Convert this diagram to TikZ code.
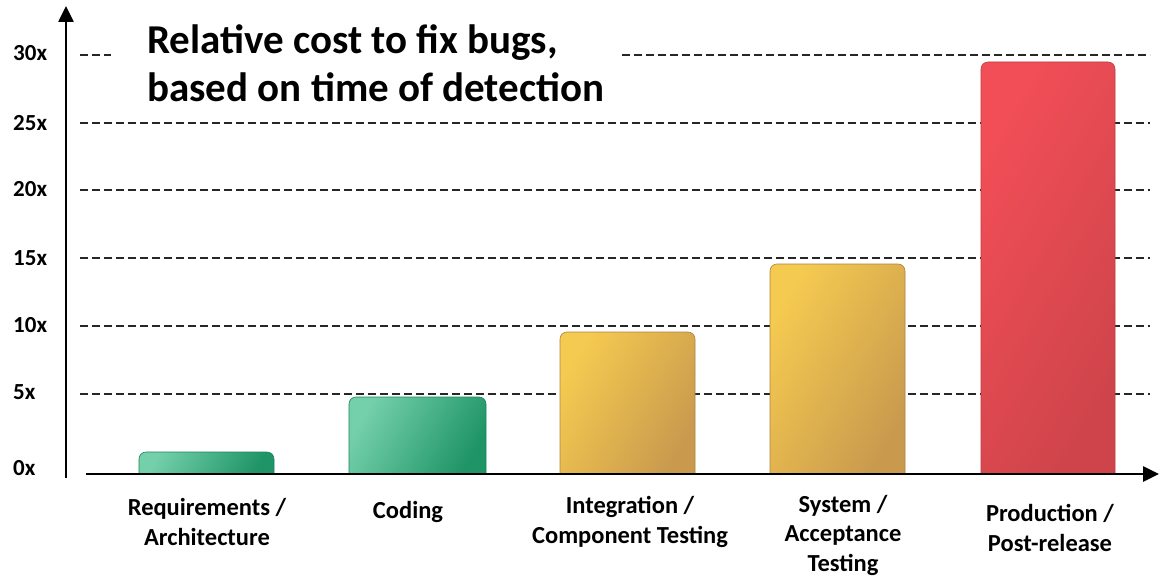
\documentclass[tikz,border=0pt]{standalone}
\usepackage{fontspec}
\setmainfont{Carlito}
\usetikzlibrary{arrows.meta}

\definecolor{greenA}{HTML}{74D0AA}
\definecolor{greenB}{HTML}{1F9467}
\definecolor{yellowA}{HTML}{F5CA50}
\definecolor{yellowB}{HTML}{C99A4E}
\definecolor{redA}{HTML}{F24E57}
\definecolor{redB}{HTML}{CE444A}

\tikzset{
  grid line/.style={black!85, line width=2pt, dash pattern=on 8pt off 4pt},
  axis line/.style={black, line width=2.6pt, -{Triangle[length=16pt,width=15pt]}},
  tick label/.style={font=\fontsize{23}{27}\selectfont\bfseries, anchor=west, inner sep=0pt},
  stage label/.style={font=\fontsize{24.5}{29.5}\selectfont\bfseries, align=center, inner sep=0pt},
  title label/.style={font=\fontsize{41}{48}\selectfont\bfseries, align=left, anchor=west, inner sep=0pt},
  bar green/.style={left color=greenA, right color=greenB, shading angle=60, draw=greenB!90!black, line width=0.6pt},
  bar yellow/.style={left color=yellowA, right color=yellowB, shading angle=60, draw=yellowB!85!black, line width=0.6pt},
  bar red/.style={left color=redA, right color=redB, shading angle=60, draw=redB!90!black, line width=0.6pt},
}

% a bar with rounded top corners and a square foot on the axis
\newcommand{\costbar}[4]{%
  \path[#1, rounded corners=7pt] (#2,474) -- (#2,#4) -- (#3,#4) -- (#3,474);
}

\begin{document}
\begin{tikzpicture}[x=1pt, y=-1pt]
  \useasboundingbox[fill=white] (0,0) rectangle (1160,578);

  % horizontal guide lines
  \draw[grid line] (80,55) -- (111,55);
  \draw[grid line] (622,55) -- (1150,55);
  \foreach \gy in {123,190,258,326,394}
    \draw[grid line] (80,\gy) -- (1150,\gy);

  % bars
  \costbar{bar green}{139}{274}{452}
  \costbar{bar green}{349}{486}{397}
  \costbar{bar yellow}{560}{695}{332}
  \costbar{bar yellow}{770}{905}{264}
  \costbar{bar red}{981}{1115}{62}

  % axes
  \coordinate (yfoot) at (66,478);
  \coordinate (ytip) at (66,6);
  \coordinate (xfoot) at (86,474);
  \coordinate (xtip) at (1159,474);
  \draw[axis line] (yfoot) -- (ytip);
  \draw[axis line] (xfoot) -- (xtip);

  % scale labels
  \node[tick label] (t30) at (13,53) {30x};
  \node[tick label] (t25) at (13,123) {25x};
  \node[tick label] (t20) at (13,189) {20x};
  \node[tick label] (t15) at (13,258) {15x};
  \node[tick label] (t10) at (13,325) {10x};
  \node[tick label] (t5)  at (13,392) {5x};
  \node[tick label] (t0)  at (13,468) {0x};

  % title
  \node[title label] (title) at (147,63) {Relative cost to fix bugs,\\based on time of detection};

  % stage labels
  \node[stage label] (s1) at (207,522) {Requirements /\\Architecture};
  \node[stage label] (s2) at (408,512) {Coding};
  \node[stage label] (s3) at (630,522) {Integration /\\Component Testing};
  \node[stage label] (s4) at (843,535) {System /\\Acceptance\\Testing};
  \node[stage label] (s5) at (1050,528) {Production /\\Post-release};
\end{tikzpicture}
\end{document}
